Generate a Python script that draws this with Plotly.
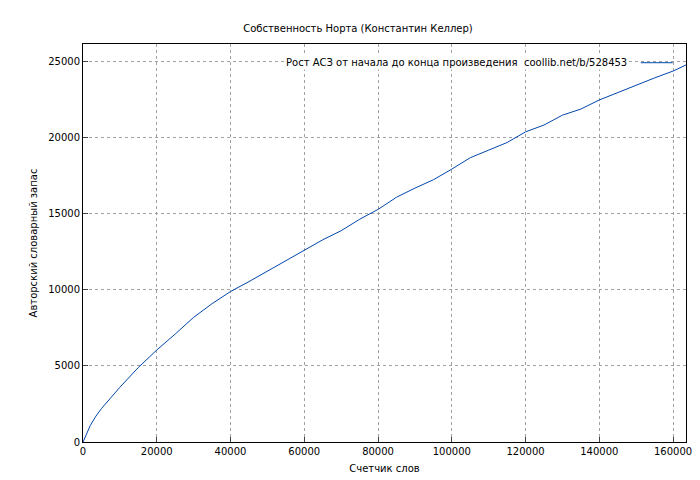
import plotly.graph_objects as go

words = [0, 500, 1000, 2000, 3500, 5000, 7500, 10000, 15000, 20000, 25000, 30000, 35000, 40000, 45000, 50000,
         55000, 60000, 65000, 70000, 75000, 80000, 85000, 90000, 95000, 100000, 105000, 110000, 115000,
         120000, 125000, 130000, 135000, 140000, 145000, 150000, 155000, 160000, 163500]
vocab = [0, 300, 600, 1100, 1700, 2200, 2900, 3600, 4900, 6050, 7100, 8200, 9100, 9900, 10550, 11250,
         11950, 12600, 13300, 13900, 14650, 15300, 16100, 16700, 17250, 17950, 18700, 19200, 19700,
         20400, 20850, 21500, 21900, 22500, 23000, 23500, 23950, 24400, 24800]

fnt = dict(family="DejaVu Sans", size=10, color="black")
fig = go.Figure(go.Scatter(x=words, y=vocab, mode="lines", line=dict(color="#0047ab", width=1), showlegend=False))
ax = dict(showline=True, mirror=True, linecolor="black", linewidth=1, ticks="inside", ticklen=5,
          gridcolor="#a0a0a0", griddash="dot", gridwidth=1, zeroline=False, tickfont=fnt,
          tickformat="d", automargin=False)
fig.update_xaxes(range=[0, 163500], dtick=20000, title=dict(text="Счетчик слов", font=fnt, standoff=8), **ax)
fig.update_yaxes(range=[0, 26180], dtick=5000, title=dict(text="Авторский словарный запас", font=fnt, standoff=8), **ax)
fig.update_layout(width=700, height=480, paper_bgcolor="white", plot_bgcolor="white",
                  margin=dict(l=75, r=22, t=36, b=46), font=fnt,
                  title=dict(text="Собственность Норта (Константин Келлер)", x=0.5, y=0.965, xanchor="center", font=fnt))
fig.add_annotation(xref="paper", yref="paper", x=0.905, y=0.953, xanchor="right", yanchor="middle",
                   text="Рост АСЗ от начала до конца произведения  coollib.net/b/528453", showarrow=False,
                   font=fnt, bgcolor="white")
fig.add_shape(type="line", xref="paper", yref="paper", x0=0.925, x1=0.978, y0=0.953, y1=0.953,
              line=dict(color="#0047ab", width=1))
fig.write_html("out.html")
